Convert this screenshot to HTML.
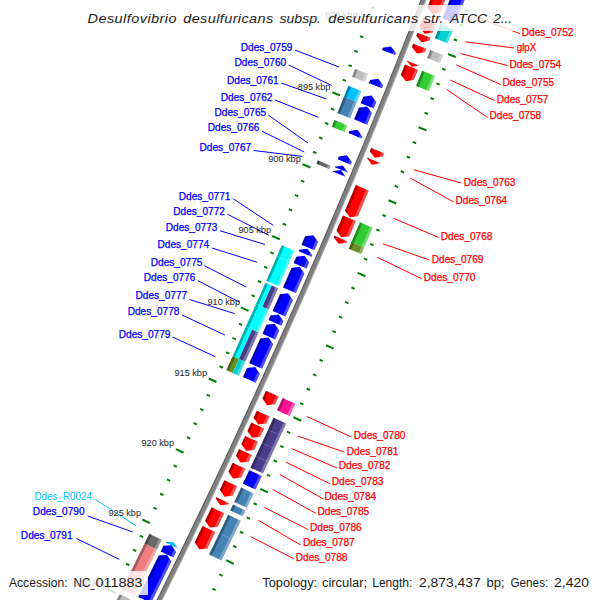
<!DOCTYPE html>
<html><head><meta charset="utf-8"><title>CGView map</title>
<style>
html,body{margin:0;padding:0;background:#fff;}
body{width:600px;height:600px;overflow:hidden;}
svg{display:block;font-family:"Liberation Sans",sans-serif;}
</style></head><body>
<svg width="600" height="600" viewBox="0 0 600 600">
<rect width="600" height="600" fill="#fff"/>
<path d="M504.14 -93.65 L512.02 -90.75 M424.56 -122.94 L416.68 -125.84 M498.67 -78.83 L502.04 -77.58 M419.15 -108.30 L415.78 -109.55 M493.16 -64.03 L496.54 -62.77 M413.71 -93.67 L410.34 -94.93 M487.63 -49.24 L491.00 -47.97 M408.24 -79.06 L404.87 -80.32 M482.06 -34.46 L485.43 -33.19 M402.74 -64.45 L399.37 -65.72 M476.46 -19.70 L484.31 -16.71 M397.20 -49.86 L389.35 -52.85 M470.82 -4.94 L474.19 -3.65 M391.64 -35.28 L388.27 -36.57 M465.16 9.80 L468.52 11.10 M386.04 -20.71 L382.68 -22.00 M459.46 24.53 L462.82 25.83 M380.41 -6.15 L377.05 -7.46 M453.73 39.25 L457.08 40.56 M374.74 8.39 L371.39 7.08 M447.97 53.95 L455.78 57.02 M369.05 22.92 L361.23 19.85 M442.17 68.64 L445.52 69.97 M363.32 37.44 L359.97 36.12 M436.35 83.32 L439.69 84.65 M357.56 51.95 L354.22 50.61 M430.49 97.99 L433.83 99.32 M351.77 66.44 L348.43 65.10 M424.60 112.64 L427.93 113.98 M345.95 80.92 L342.61 79.57 M418.67 127.28 L426.46 130.44 M340.10 95.39 L332.31 92.23 M412.72 141.91 L416.05 143.27 M334.21 109.84 L330.88 108.48 M406.73 156.52 L410.06 157.89 M328.30 124.29 L324.97 122.92 M400.71 171.12 L404.04 172.50 M322.35 138.72 L319.02 137.34 M394.66 185.71 L397.99 187.09 M316.37 153.13 L313.04 151.75 M388.58 200.28 L396.33 203.53 M310.36 167.54 L302.61 164.29 M382.47 214.84 L385.78 216.24 M304.31 181.93 L301.00 180.53 M376.32 229.39 L379.63 230.80 M298.24 196.30 L294.93 194.90 M370.14 243.93 L373.45 245.34 M292.13 210.67 L288.82 209.26 M363.93 258.45 L367.24 259.87 M286.00 225.02 L282.69 223.60 M357.69 272.95 L365.40 276.28 M279.83 239.35 L272.12 236.03 M351.42 287.45 L354.72 288.88 M273.63 253.68 L270.33 252.24 M345.11 301.93 L348.41 303.37 M267.40 267.99 L264.10 266.55 M338.77 316.39 L342.07 317.84 M261.14 282.28 L257.84 280.84 M332.41 330.84 L335.70 332.30 M254.84 296.57 L251.55 295.11 M326.01 345.28 L333.68 348.70 M248.52 310.83 L240.84 307.42 M319.58 359.71 L322.86 361.18 M242.16 325.09 L238.88 323.62 M313.11 374.12 L316.40 375.59 M235.78 339.33 L232.49 337.85 M306.62 388.51 L309.90 390.00 M229.36 353.56 L226.08 352.07 M300.09 402.89 L303.37 404.38 M222.91 367.77 L219.63 366.28 M293.53 417.26 L301.17 420.76 M216.43 381.97 L208.79 378.47 M286.95 431.61 L290.22 433.12 M209.92 396.15 L206.65 394.65 M280.33 445.95 L283.59 447.46 M203.37 410.32 L200.11 408.81 M273.67 460.28 L276.94 461.80 M196.80 424.48 L193.54 422.96 M266.99 474.59 L270.25 476.11 M190.20 438.62 L186.94 437.09 M260.28 488.88 L267.88 492.46 M183.56 452.75 L175.96 449.17 M253.53 503.16 L256.79 504.70 M176.90 466.86 L173.64 465.32 M246.76 517.42 L250.01 518.97 M170.20 480.95 L166.95 479.41 M239.95 531.67 L243.20 533.23 M163.47 495.04 L160.23 493.48 M233.11 545.91 L236.35 547.47 M156.71 509.11 L153.47 507.54 M226.24 560.13 L233.80 563.79 M149.92 523.16 L142.36 519.50 M219.34 574.34 L222.58 575.91 M143.10 537.20 L139.87 535.62 M212.41 588.53 L215.64 590.11 M136.25 551.22 L133.02 549.64 M205.44 602.70 L208.67 604.29 M129.37 565.23 L126.14 563.64 M198.45 616.86 L201.68 618.46 M122.46 579.22 L119.23 577.63 M191.43 631.01 L198.95 634.75 M115.52 593.20 L108.00 589.46 M184.37 645.13 L187.59 646.75 M108.55 607.17 L105.33 605.55 M177.28 659.25 L180.50 660.87 M101.54 621.11 L98.33 619.49 M170.17 673.35 L173.38 674.97 M94.51 635.05 L91.30 633.42 M163.02 687.43 L166.23 689.06 M87.44 648.96 L84.24 647.33 M155.84 701.49 L163.32 705.32 M80.35 662.86 L72.87 659.04 M148.63 715.55 L151.83 717.19 M73.22 676.75 L70.02 675.10 M141.39 729.58 L144.59 731.24 M66.07 690.62 L62.87 688.97 M134.12 743.60 L137.31 745.26 M58.88 704.48 L55.69 702.81 M126.81 757.60 L130.01 759.27 M51.67 718.31 L48.48 716.65" stroke="rgb(0,128,0)" stroke-width="2" fill="none"/>
<polygon points="439.87,-50.41 434.42,-36.03 428.93,-21.65 423.41,-7.29 417.86,7.06 412.28,21.40 406.67,35.73 401.03,50.04 395.36,64.35 389.65,78.64 383.92,92.92 378.16,107.18 372.36,121.44 366.54,135.68 360.68,149.91 354.79,164.12 348.88,178.32 342.93,192.52 336.95,206.69 330.95,220.86 324.91,235.01 318.84,249.15 312.74,263.28 306.61,277.39 300.45,291.49 294.26,305.58 288.04,319.65 281.79,333.71 275.51,347.76 269.20,361.79 262.86,375.81 256.49,389.81 250.09,403.81 243.66,417.78 237.20,431.75 230.71,445.70 224.19,459.64 217.64,473.56 211.06,487.47 204.45,501.36 197.81,515.24 191.14,529.11 184.44,542.96 177.72,556.80 170.96,570.62 164.17,584.43 157.35,598.22 150.51,612.00 143.63,625.77 136.72,639.52 129.79,653.25 122.82,666.97 127.64,669.42 134.61,655.69 141.55,641.94 148.46,628.18 155.34,614.41 162.19,600.62 169.01,586.82 175.81,573.00 182.57,559.16 189.30,545.32 196.01,531.45 202.68,517.58 209.33,503.69 215.94,489.78 222.52,475.86 229.08,461.93 235.60,447.98 242.10,434.02 248.56,420.05 255.00,406.06 261.40,392.05 267.78,378.04 274.12,364.01 280.44,349.96 286.72,335.91 292.98,321.84 299.20,307.75 305.40,293.66 311.56,279.55 317.69,265.42 323.80,251.28 329.87,237.14 335.91,222.97 341.93,208.80 347.91,194.61 353.86,180.41 359.78,166.19 365.67,151.97 371.53,137.73 377.36,123.47 383.16,109.21 388.93,94.93 394.67,80.64 400.37,66.34 406.05,52.03 411.70,37.70 417.31,23.37 422.90,9.02 428.45,-5.35 433.97,-19.72 439.46,-34.10 444.92,-48.50" fill="rgb(128,128,128)"/>
<polygon points="439.87,-50.41 434.42,-36.03 428.93,-21.65 423.41,-7.29 417.86,7.06 412.28,21.40 406.67,35.73 401.03,50.04 395.36,64.35 389.65,78.64 383.92,92.92 378.16,107.18 372.36,121.44 366.54,135.68 360.68,149.91 354.79,164.12 348.88,178.32 342.93,192.52 336.95,206.69 330.95,220.86 324.91,235.01 318.84,249.15 312.74,263.28 306.61,277.39 300.45,291.49 294.26,305.58 288.04,319.65 281.79,333.71 275.51,347.76 269.20,361.79 262.86,375.81 256.49,389.81 250.09,403.81 243.66,417.78 237.20,431.75 230.71,445.70 224.19,459.64 217.64,473.56 211.06,487.47 204.45,501.36 197.81,515.24 191.14,529.11 184.44,542.96 177.72,556.80 170.96,570.62 164.17,584.43 157.35,598.22 150.51,612.00 143.63,625.77 136.72,639.52 129.79,653.25 122.82,666.97 123.79,667.46 130.75,653.74 137.69,640.00 144.60,626.25 151.47,612.48 158.32,598.70 165.14,584.91 171.93,571.10 178.69,557.27 185.42,543.43 192.12,529.58 198.79,515.71 205.43,501.83 212.04,487.93 218.62,474.02 225.17,460.09 231.69,446.16 238.18,432.20 244.64,418.24 251.07,404.26 257.47,390.26 263.85,376.25 270.19,362.23 276.50,348.20 282.78,334.15 289.03,320.09 295.25,306.01 301.44,291.92 307.60,277.82 313.73,263.70 319.83,249.58 325.90,235.44 331.94,221.28 337.95,207.11 343.93,192.93 349.87,178.74 355.79,164.54 361.68,150.32 367.54,136.09 373.36,121.84 379.16,107.59 384.92,93.32 390.66,79.04 396.36,64.75 402.03,50.44 407.68,36.12 413.29,21.79 418.87,7.45 424.42,-6.90 429.94,-21.26 435.43,-35.64 440.88,-50.03" fill="#000" fill-opacity="0.28"/>
<polygon points="443.91,-48.88 438.45,-34.49 432.96,-20.11 427.44,-5.73 421.89,8.63 416.31,22.97 410.69,37.31 405.05,51.63 399.37,65.94 393.66,80.24 387.93,94.53 382.16,108.80 376.36,123.07 370.53,137.32 364.67,151.55 358.78,165.78 352.86,179.99 346.91,194.19 340.93,208.38 334.92,222.55 328.88,236.71 322.81,250.86 316.70,264.99 310.57,279.11 304.41,293.22 298.21,307.32 291.99,321.40 285.74,335.47 279.45,349.52 273.14,363.56 266.80,377.59 260.42,391.61 254.02,405.61 247.58,419.59 241.12,433.57 234.63,447.53 228.10,461.47 221.55,475.40 214.96,489.32 208.35,503.22 201.71,517.11 195.03,530.99 188.33,544.85 181.60,558.69 174.84,572.52 168.05,586.34 161.22,600.14 154.37,613.93 147.49,627.70 140.58,641.46 133.64,655.20 126.67,668.93 127.64,669.42 134.61,655.69 141.55,641.94 148.46,628.18 155.34,614.41 162.19,600.62 169.01,586.82 175.81,573.00 182.57,559.16 189.30,545.32 196.01,531.45 202.68,517.58 209.33,503.69 215.94,489.78 222.52,475.86 229.08,461.93 235.60,447.98 242.10,434.02 248.56,420.05 255.00,406.06 261.40,392.05 267.78,378.04 274.12,364.01 280.44,349.96 286.72,335.91 292.98,321.84 299.20,307.75 305.40,293.66 311.56,279.55 317.69,265.42 323.80,251.28 329.87,237.14 335.91,222.97 341.93,208.80 347.91,194.61 353.86,180.41 359.78,166.19 365.67,151.97 371.53,137.73 377.36,123.47 383.16,109.21 388.93,94.93 394.67,80.64 400.37,66.34 406.05,52.03 411.70,37.70 417.31,23.37 422.90,9.02 428.45,-5.35 433.97,-19.72 439.46,-34.10 444.92,-48.50" fill="#fff" fill-opacity="0.28"/>
<polygon points="465.48,-41.23 460.95,-29.27 456.39,-17.32 451.82,-5.37 447.22,6.56 442.60,18.49 455.47,23.49 460.09,11.53 464.70,-0.43 469.29,-12.39 473.85,-24.37 478.39,-36.35" fill="rgb(0,0,255)"/>
<polygon points="465.48,-41.23 460.95,-29.27 456.39,-17.32 451.82,-5.37 447.22,6.56 442.60,18.49 445.17,19.49 449.80,7.56 454.39,-4.38 458.97,-16.33 463.53,-28.29 468.06,-40.26" fill="#000" fill-opacity="0.3"/>
<polygon points="475.81,-37.33 471.27,-25.35 466.71,-13.38 462.12,-1.41 457.52,10.54 452.89,22.49 455.47,23.49 460.09,11.53 464.70,-0.43 469.29,-12.39 473.85,-24.37 478.39,-36.35" fill="#fff" fill-opacity="0.3"/>
<polygon points="448.29,-47.23 427.33,7.55 432.33,14.00 440.38,12.61 461.39,-42.28" fill="rgb(255,0,0)"/>
<polygon points="448.29,-47.23 427.33,7.55 429.33,10.13 450.91,-46.24" fill="#000" fill-opacity="0.3"/>
<polygon points="461.39,-42.28 440.38,12.61 437.16,13.16 458.77,-43.27" fill="#fff" fill-opacity="0.3"/>
<polygon points="440.49,23.93 434.88,38.31 447.73,43.34 453.35,28.93" fill="rgb(0,206,209)"/>
<polygon points="440.49,23.93 434.88,38.31 437.45,39.31 443.06,24.93" fill="#000" fill-opacity="0.3"/>
<polygon points="450.78,27.93 445.16,42.33 447.73,43.34 453.35,28.93" fill="#fff" fill-opacity="0.3"/>
<polygon points="423.36,17.77 419.63,27.32 424.62,33.78 432.67,32.41 436.40,22.84" fill="rgb(255,0,0)"/>
<polygon points="423.36,17.77 419.63,27.32 421.63,29.90 425.97,18.78" fill="#000" fill-opacity="0.3"/>
<polygon points="436.40,22.84 432.67,32.41 429.45,32.96 433.80,21.83" fill="#fff" fill-opacity="0.3"/>
<polygon points="417.53,32.70 416.37,35.66 421.35,42.13 429.40,40.77 430.56,37.80" fill="rgb(255,0,0)"/>
<polygon points="417.53,32.70 416.37,35.66 418.36,38.25 420.14,33.72" fill="#000" fill-opacity="0.3"/>
<polygon points="430.56,37.80 429.40,40.77 426.18,41.32 427.96,36.78" fill="#fff" fill-opacity="0.3"/>
<polygon points="430.33,49.89 427.09,58.10 439.93,63.17 443.17,54.95" fill="rgb(190,190,190)"/>
<polygon points="430.33,49.89 427.09,58.10 429.66,59.11 432.90,50.90" fill="#000" fill-opacity="0.3"/>
<polygon points="440.60,53.94 437.36,62.16 439.93,63.17 443.17,54.95" fill="#fff" fill-opacity="0.3"/>
<polygon points="413.22,43.67 411.88,47.06 416.85,53.55 424.91,52.20 426.25,48.79" fill="rgb(255,0,0)"/>
<polygon points="413.22,43.67 411.88,47.06 413.87,49.66 415.83,44.69" fill="#000" fill-opacity="0.3"/>
<polygon points="426.25,48.79 424.91,52.20 421.68,52.74 423.64,47.77" fill="#fff" fill-opacity="0.3"/>
<polygon points="406.52,60.62 406.52,60.62 411.64,66.71 419.54,65.78 419.54,65.78" fill="rgb(255,0,0)"/>
<polygon points="406.52,60.62 406.52,60.62 408.57,63.05 409.12,61.65" fill="#000" fill-opacity="0.3"/>
<polygon points="419.54,65.78 419.54,65.78 416.38,66.15 416.93,64.75" fill="#fff" fill-opacity="0.3"/>
<polygon points="422.04,70.84 419.05,78.38 416.04,85.92 428.85,91.04 431.87,83.49 434.87,75.94" fill="rgb(50,205,50)"/>
<polygon points="422.04,70.84 419.05,78.38 416.04,85.92 418.60,86.94 421.61,79.40 424.61,71.86" fill="#000" fill-opacity="0.3"/>
<polygon points="432.30,74.92 429.30,82.47 426.29,90.01 428.85,91.04 431.87,83.49 434.87,75.94" fill="#fff" fill-opacity="0.3"/>
<polygon points="404.96,64.56 400.87,74.82 405.81,81.32 413.88,80.01 417.97,69.73" fill="rgb(255,0,0)"/>
<polygon points="404.96,64.56 400.87,74.82 402.85,77.42 407.56,65.60" fill="#000" fill-opacity="0.3"/>
<polygon points="417.97,69.73 413.88,80.01 410.65,80.53 415.36,68.70" fill="#fff" fill-opacity="0.3"/>
<polygon points="371.19,148.03 369.86,151.26 374.72,157.82 382.80,156.60 384.13,153.36" fill="rgb(255,0,0)"/>
<polygon points="371.19,148.03 369.86,151.26 371.80,153.88 373.78,149.10" fill="#000" fill-opacity="0.3"/>
<polygon points="384.13,153.36 382.80,156.60 379.57,157.09 381.54,152.29" fill="#fff" fill-opacity="0.3"/>
<polygon points="367.17,157.76 367.04,158.09 371.90,164.65 379.97,163.44 380.11,163.11" fill="rgb(255,0,0)"/>
<polygon points="367.17,157.76 367.04,158.09 368.98,160.71 369.76,158.83" fill="#000" fill-opacity="0.3"/>
<polygon points="380.11,163.11 379.97,163.44 376.74,163.93 377.52,162.04" fill="#fff" fill-opacity="0.3"/>
<polygon points="355.83,185.04 345.03,210.71 349.83,217.31 357.92,216.17 368.74,190.44" fill="rgb(255,0,0)"/>
<polygon points="355.83,185.04 345.03,210.71 346.95,213.35 358.41,186.12" fill="#000" fill-opacity="0.3"/>
<polygon points="368.74,190.44 357.92,216.17 354.68,216.63 366.16,189.36" fill="#fff" fill-opacity="0.3"/>
<polygon points="359.90,222.26 355.65,232.27 351.39,242.27 364.08,247.69 368.35,237.67 372.61,227.65" fill="rgb(50,205,50)"/>
<polygon points="359.90,222.26 355.65,232.27 351.39,242.27 353.92,243.35 358.19,233.35 362.44,223.34" fill="#000" fill-opacity="0.3"/>
<polygon points="370.06,226.57 365.81,236.59 361.54,246.60 364.08,247.69 368.35,237.67 372.61,227.65" fill="#fff" fill-opacity="0.3"/>
<polygon points="342.96,215.60 336.55,230.67 341.33,237.29 349.43,236.16 355.85,221.06" fill="rgb(255,0,0)"/>
<polygon points="342.96,215.60 336.55,230.67 338.46,233.32 345.54,216.69" fill="#000" fill-opacity="0.3"/>
<polygon points="355.85,221.06 349.43,236.16 346.19,236.61 353.27,219.97" fill="#fff" fill-opacity="0.3"/>
<polygon points="351.39,242.27 348.66,248.64 361.34,254.07 364.08,247.69" fill="rgb(107,142,35)"/>
<polygon points="351.39,242.27 348.66,248.64 351.20,249.73 353.92,243.35" fill="#000" fill-opacity="0.3"/>
<polygon points="361.54,246.60 358.81,252.99 361.34,254.07 364.08,247.69" fill="#fff" fill-opacity="0.3"/>
<polygon points="334.40,235.69 333.77,237.17 338.55,243.79 346.64,242.68 347.28,241.20" fill="rgb(255,0,0)"/>
<polygon points="334.40,235.69 333.77,237.17 335.68,239.82 336.98,236.79" fill="#000" fill-opacity="0.3"/>
<polygon points="347.28,241.20 346.64,242.68 343.41,243.13 344.70,240.09" fill="#fff" fill-opacity="0.3"/>
<polygon points="282.69,397.92 277.06,410.24 289.61,415.98 295.25,403.64" fill="rgb(255,20,147)"/>
<polygon points="282.69,397.92 277.06,410.24 279.57,411.39 285.20,399.06" fill="#000" fill-opacity="0.3"/>
<polygon points="292.74,402.49 287.10,414.84 289.61,415.98 295.25,403.64" fill="#fff" fill-opacity="0.3"/>
<polygon points="265.93,390.80 262.46,398.41 267.08,405.15 275.19,404.23 278.67,396.61" fill="rgb(255,0,0)"/>
<polygon points="265.93,390.80 262.46,398.41 264.31,401.11 268.48,391.96" fill="#000" fill-opacity="0.3"/>
<polygon points="278.67,396.61 275.19,404.23 271.95,404.60 276.12,395.44" fill="#fff" fill-opacity="0.3"/>
<polygon points="273.58,417.83 268.15,429.64 280.68,435.42 286.12,423.59" fill="rgb(72,61,139)"/>
<polygon points="273.58,417.83 268.15,429.64 270.65,430.79 276.09,418.98" fill="#000" fill-opacity="0.3"/>
<polygon points="283.62,422.44 278.17,434.26 280.68,435.42 286.12,423.59" fill="#fff" fill-opacity="0.3"/>
<polygon points="256.85,410.66 253.61,417.69 258.21,424.44 266.33,423.55 269.57,416.51" fill="rgb(255,0,0)"/>
<polygon points="256.85,410.66 253.61,417.69 255.45,420.39 259.39,411.83" fill="#000" fill-opacity="0.3"/>
<polygon points="269.57,416.51 266.33,423.55 263.08,423.91 267.02,415.34" fill="#fff" fill-opacity="0.3"/>
<polygon points="268.15,429.64 261.96,443.00 274.48,448.81 280.68,435.42" fill="rgb(72,61,139)"/>
<polygon points="268.15,429.64 261.96,443.00 264.47,444.17 270.65,430.79" fill="#000" fill-opacity="0.3"/>
<polygon points="278.17,434.26 271.98,447.65 274.48,448.81 280.68,435.42" fill="#fff" fill-opacity="0.3"/>
<polygon points="251.39,422.51 247.49,430.96 252.07,437.72 260.19,436.84 264.10,428.38" fill="rgb(255,0,0)"/>
<polygon points="251.39,422.51 247.49,430.96 249.32,433.66 253.93,423.68" fill="#000" fill-opacity="0.3"/>
<polygon points="264.10,428.38 260.19,436.84 256.94,437.20 261.56,427.20" fill="#fff" fill-opacity="0.3"/>
<polygon points="261.96,443.00 255.85,456.15 268.36,461.98 274.48,448.81" fill="rgb(72,61,139)"/>
<polygon points="261.96,443.00 255.85,456.15 258.35,457.31 264.47,444.17" fill="#000" fill-opacity="0.3"/>
<polygon points="271.98,447.65 265.86,460.81 268.36,461.98 274.48,448.81" fill="#fff" fill-opacity="0.3"/>
<polygon points="245.19,435.92 241.40,444.07 245.97,450.84 254.09,449.98 257.89,441.81" fill="rgb(255,0,0)"/>
<polygon points="245.19,435.92 241.40,444.07 243.23,446.78 247.73,437.09" fill="#000" fill-opacity="0.3"/>
<polygon points="257.89,441.81 254.09,449.98 250.84,450.33 255.35,440.63" fill="#fff" fill-opacity="0.3"/>
<polygon points="255.85,456.15 250.45,467.71 262.94,473.56 268.36,461.98" fill="rgb(72,61,139)"/>
<polygon points="255.85,456.15 250.45,467.71 252.95,468.88 258.35,457.31" fill="#000" fill-opacity="0.3"/>
<polygon points="265.86,460.81 260.45,472.39 262.94,473.56 268.36,461.98" fill="#fff" fill-opacity="0.3"/>
<polygon points="239.09,449.02 235.95,455.75 240.51,462.53 248.63,461.68 251.78,454.94" fill="rgb(255,0,0)"/>
<polygon points="239.09,449.02 235.95,455.75 237.77,458.46 241.63,450.21" fill="#000" fill-opacity="0.3"/>
<polygon points="251.78,454.94 248.63,461.68 245.38,462.02 249.24,453.76" fill="#fff" fill-opacity="0.3"/>
<polygon points="249.31,470.13 242.94,483.67 255.43,489.56 261.81,475.99" fill="rgb(0,0,255)"/>
<polygon points="249.31,470.13 242.94,483.67 245.44,484.85 251.81,471.30" fill="#000" fill-opacity="0.3"/>
<polygon points="259.31,474.82 252.93,488.38 255.43,489.56 261.81,475.99" fill="#fff" fill-opacity="0.3"/>
<polygon points="232.63,462.83 228.47,471.68 233.01,478.47 241.14,477.65 245.31,468.78" fill="rgb(255,0,0)"/>
<polygon points="232.63,462.83 228.47,471.68 230.29,474.40 235.17,464.02" fill="#000" fill-opacity="0.3"/>
<polygon points="245.31,468.78 241.14,477.65 237.89,477.98 242.77,467.59" fill="#fff" fill-opacity="0.3"/>
<polygon points="241.13,487.52 237.73,494.71 234.32,501.90 246.78,507.82 250.20,500.62 253.61,493.41" fill="rgb(70,130,180)"/>
<polygon points="241.13,487.52 237.73,494.71 234.32,501.90 236.81,503.09 240.22,495.89 243.62,488.70" fill="#000" fill-opacity="0.3"/>
<polygon points="251.11,492.24 247.70,499.44 244.29,506.64 246.78,507.82 250.20,500.62 253.61,493.41" fill="#fff" fill-opacity="0.3"/>
<polygon points="224.47,480.18 219.88,489.87 224.40,496.67 232.53,495.87 237.13,486.16" fill="rgb(255,0,0)"/>
<polygon points="224.47,480.18 219.88,489.87 221.69,492.59 227.00,481.37" fill="#000" fill-opacity="0.3"/>
<polygon points="237.13,486.16 232.53,495.87 229.28,496.19 234.60,484.96" fill="#fff" fill-opacity="0.3"/>
<polygon points="233.03,504.61 230.26,510.44 242.72,516.37 245.50,510.53" fill="rgb(70,130,180)"/>
<polygon points="233.03,504.61 230.26,510.44 232.75,511.62 235.53,505.79" fill="#000" fill-opacity="0.3"/>
<polygon points="243.00,509.35 240.22,515.19 242.72,516.37 245.50,510.53" fill="#fff" fill-opacity="0.3"/>
<polygon points="216.39,497.22 215.84,498.39 220.35,505.19 228.48,504.40 229.04,503.23" fill="rgb(255,0,0)"/>
<polygon points="216.39,497.22 215.84,498.39 217.64,501.11 218.92,498.42" fill="#000" fill-opacity="0.3"/>
<polygon points="229.04,503.23 228.48,504.40 225.23,504.72 226.51,502.03" fill="#fff" fill-opacity="0.3"/>
<polygon points="228.22,514.70 223.81,523.94 219.38,533.17 231.81,539.15 236.25,529.90 240.68,520.65" fill="rgb(70,130,180)"/>
<polygon points="228.22,514.70 223.81,523.94 219.38,533.17 221.86,534.37 226.30,525.13 230.71,515.89" fill="#000" fill-opacity="0.3"/>
<polygon points="238.19,519.46 233.76,528.71 229.32,537.96 231.81,539.15 236.25,529.90 240.68,520.65" fill="#fff" fill-opacity="0.3"/>
<polygon points="211.60,507.29 205.13,520.79 209.62,527.61 217.75,526.85 224.23,513.32" fill="rgb(255,0,0)"/>
<polygon points="211.60,507.29 205.13,520.79 206.93,523.52 214.12,508.50" fill="#000" fill-opacity="0.3"/>
<polygon points="224.23,513.32 217.75,526.85 214.50,527.15 221.70,512.11" fill="#fff" fill-opacity="0.3"/>
<polygon points="219.38,533.17 214.25,543.82 209.10,554.45 221.52,560.47 226.67,549.82 231.81,539.15" fill="rgb(70,130,180)"/>
<polygon points="219.38,533.17 214.25,543.82 209.10,554.45 211.58,555.66 216.73,545.02 221.86,534.37" fill="#000" fill-opacity="0.3"/>
<polygon points="229.32,537.96 224.19,548.62 219.03,559.27 221.52,560.47 226.67,549.82 231.81,539.15" fill="#fff" fill-opacity="0.3"/>
<polygon points="202.63,525.99 194.76,542.31 199.23,549.14 207.36,548.41 215.25,532.06" fill="rgb(255,0,0)"/>
<polygon points="202.63,525.99 194.76,542.31 196.55,545.04 205.16,527.21" fill="#000" fill-opacity="0.3"/>
<polygon points="215.25,532.06 207.36,548.41 204.11,548.70 212.73,530.85" fill="#fff" fill-opacity="0.3"/>
<polygon points="382.14,49.94 382.96,47.86 391.01,46.54 395.98,53.02 395.16,55.10" fill="rgb(0,0,255)"/>
<polygon points="382.14,49.94 382.96,47.86 386.18,47.34 384.74,50.97" fill="#000" fill-opacity="0.3"/>
<polygon points="395.16,55.10 395.98,53.02 393.99,50.43 392.55,54.07" fill="#fff" fill-opacity="0.3"/>
<polygon points="355.17,68.98 352.03,76.81 364.83,81.96 367.98,74.12" fill="rgb(190,190,190)"/>
<polygon points="355.17,68.98 352.03,76.81 354.59,77.84 357.73,70.01" fill="#000" fill-opacity="0.3"/>
<polygon points="365.42,73.09 362.27,80.93 364.83,81.96 367.98,74.12" fill="#fff" fill-opacity="0.3"/>
<polygon points="368.90,83.09 370.14,80.00 378.20,78.72 383.14,85.22 381.89,88.31" fill="rgb(0,0,255)"/>
<polygon points="368.90,83.09 370.14,80.00 373.37,79.49 371.50,84.13" fill="#000" fill-opacity="0.3"/>
<polygon points="381.89,88.31 383.14,85.22 381.16,82.62 379.29,87.27" fill="#fff" fill-opacity="0.3"/>
<polygon points="348.41,85.79 343.96,96.79 356.74,101.98 361.21,90.95" fill="rgb(0,191,255)"/>
<polygon points="348.41,85.79 343.96,96.79 346.51,97.82 350.97,86.82" fill="#000" fill-opacity="0.3"/>
<polygon points="358.65,89.92 354.19,100.94 356.74,101.98 361.21,90.95" fill="#fff" fill-opacity="0.3"/>
<polygon points="360.75,103.26 363.35,96.84 371.41,95.58 376.33,102.10 373.72,108.53" fill="rgb(0,0,255)"/>
<polygon points="360.75,103.26 363.35,96.84 366.58,96.34 363.35,104.32" fill="#000" fill-opacity="0.3"/>
<polygon points="373.72,108.53 376.33,102.10 374.37,99.49 371.13,107.48" fill="#fff" fill-opacity="0.3"/>
<polygon points="343.96,96.79 340.66,104.89 337.36,112.99 350.13,118.21 353.44,110.09 356.74,101.98" fill="rgb(70,130,180)"/>
<polygon points="343.96,96.79 340.66,104.89 337.36,112.99 339.91,114.03 343.22,105.93 346.51,97.82" fill="#000" fill-opacity="0.3"/>
<polygon points="354.19,100.94 350.89,109.05 347.58,117.16 350.13,118.21 353.44,110.09 356.74,101.98" fill="#fff" fill-opacity="0.3"/>
<polygon points="354.20,119.36 358.94,107.73 367.00,106.48 371.91,113.00 367.16,124.66" fill="rgb(0,0,255)"/>
<polygon points="354.20,119.36 358.94,107.73 362.17,107.23 356.79,120.42" fill="#000" fill-opacity="0.3"/>
<polygon points="367.16,124.66 371.91,113.00 369.95,110.39 364.57,123.60" fill="#fff" fill-opacity="0.3"/>
<polygon points="334.52,119.92 331.73,126.71 344.50,131.96 347.29,125.16" fill="rgb(50,205,50)"/>
<polygon points="334.52,119.92 331.73,126.71 334.28,127.76 337.07,120.97" fill="#000" fill-opacity="0.3"/>
<polygon points="344.73,124.11 341.94,130.91 344.50,131.96 347.29,125.16" fill="#fff" fill-opacity="0.3"/>
<polygon points="348.56,133.12 349.41,131.06 357.47,129.84 362.36,136.38 361.51,138.44" fill="rgb(0,0,255)"/>
<polygon points="348.56,133.12 349.41,131.06 352.63,130.57 351.15,134.19" fill="#000" fill-opacity="0.3"/>
<polygon points="361.51,138.44 362.36,136.38 360.40,133.76 358.92,137.38" fill="#fff" fill-opacity="0.3"/>
<polygon points="337.73,159.31 338.89,156.53 346.96,155.34 351.82,161.89 350.66,164.68" fill="rgb(0,0,255)"/>
<polygon points="337.73,159.31 338.89,156.53 342.12,156.05 340.32,160.38" fill="#000" fill-opacity="0.3"/>
<polygon points="350.66,164.68 351.82,161.89 349.88,159.27 348.08,163.61" fill="#fff" fill-opacity="0.3"/>
<polygon points="334.49,167.11 334.68,166.65 342.75,165.47 347.60,172.03 347.41,172.50" fill="rgb(0,0,255)"/>
<polygon points="334.49,167.11 334.68,166.65 337.91,166.18 337.07,168.19" fill="#000" fill-opacity="0.3"/>
<polygon points="347.41,172.50 347.60,172.03 345.66,169.41 344.82,171.43" fill="#fff" fill-opacity="0.3"/>
<polygon points="332.68,171.45 332.75,171.27 340.83,170.10 345.67,176.67 345.59,176.85" fill="rgb(0,0,255)"/>
<polygon points="332.68,171.45 332.75,171.27 335.98,170.80 335.26,172.53" fill="#000" fill-opacity="0.3"/>
<polygon points="345.59,176.85 345.67,176.67 343.73,174.04 343.01,175.77" fill="#fff" fill-opacity="0.3"/>
<polygon points="301.55,244.80 305.21,236.28 313.30,235.19 318.08,241.81 314.40,250.34" fill="rgb(0,0,255)"/>
<polygon points="301.55,244.80 305.21,236.28 308.45,235.85 304.12,245.91" fill="#000" fill-opacity="0.3"/>
<polygon points="314.40,250.34 318.08,241.81 316.17,239.16 311.83,249.24" fill="#fff" fill-opacity="0.3"/>
<polygon points="298.76,251.27 299.39,249.80 307.48,248.73 312.24,255.35 311.61,256.83" fill="rgb(0,0,255)"/>
<polygon points="298.76,251.27 299.39,249.80 302.63,249.37 301.33,252.38" fill="#000" fill-opacity="0.3"/>
<polygon points="311.61,256.83 312.24,255.35 310.34,252.70 309.04,255.72" fill="#fff" fill-opacity="0.3"/>
<polygon points="281.74,245.28 276.96,256.31 289.61,261.81 294.40,250.76" fill="rgb(0,255,255)"/>
<polygon points="281.74,245.28 276.96,256.31 279.49,257.41 284.27,246.37" fill="#000" fill-opacity="0.3"/>
<polygon points="291.87,249.66 287.08,260.71 289.61,261.81 294.40,250.76" fill="#fff" fill-opacity="0.3"/>
<polygon points="293.72,262.91 296.41,256.70 304.50,255.63 309.26,262.26 306.56,268.49" fill="rgb(0,0,255)"/>
<polygon points="293.72,262.91 296.41,256.70 299.64,256.27 296.28,264.02" fill="#000" fill-opacity="0.3"/>
<polygon points="306.56,268.49 309.26,262.26 307.35,259.61 303.99,267.37" fill="#fff" fill-opacity="0.3"/>
<polygon points="276.96,256.31 271.66,268.48 266.33,280.64 278.97,286.19 284.30,274.00 289.61,261.81" fill="rgb(0,255,255)"/>
<polygon points="276.96,256.31 271.66,268.48 266.33,280.64 268.86,281.75 274.19,269.59 279.49,257.41" fill="#000" fill-opacity="0.3"/>
<polygon points="287.08,260.71 281.77,272.90 276.44,285.08 278.97,286.19 284.30,274.00 289.61,261.81" fill="#fff" fill-opacity="0.3"/>
<polygon points="283.01,287.45 291.55,267.90 299.64,266.85 304.38,273.48 295.83,293.07" fill="rgb(0,0,255)"/>
<polygon points="283.01,287.45 291.55,267.90 294.78,267.48 285.57,288.57" fill="#000" fill-opacity="0.3"/>
<polygon points="295.83,293.07 304.38,273.48 302.49,270.83 293.26,291.94" fill="#fff" fill-opacity="0.3"/>
<polygon points="265.39,282.79 260.72,293.40 256.03,304.01 262.34,306.80 267.04,296.19 271.71,285.56" fill="rgb(0,255,255)"/>
<polygon points="271.71,285.56 267.04,296.19 262.34,306.80 268.65,309.60 273.35,298.97 278.03,288.34" fill="rgb(72,61,139)"/>
<polygon points="265.39,282.79 260.72,293.40 256.03,304.01 258.56,305.12 263.25,294.52 267.92,283.90" fill="#000" fill-opacity="0.3"/>
<polygon points="275.50,287.23 270.82,297.86 266.13,308.48 268.65,309.60 273.35,298.97 278.03,288.34" fill="#fff" fill-opacity="0.3"/>
<polygon points="272.65,310.94 280.00,294.29 288.09,293.27 292.81,299.93 285.45,316.61" fill="rgb(0,0,255)"/>
<polygon points="272.65,310.94 280.00,294.29 283.24,293.88 275.21,312.07" fill="#000" fill-opacity="0.3"/>
<polygon points="285.45,316.61 292.81,299.93 290.93,297.26 282.89,315.48" fill="#fff" fill-opacity="0.3"/>
<polygon points="256.03,304.01 251.95,313.21 264.56,318.82 268.65,309.60" fill="rgb(0,255,255)"/>
<polygon points="256.03,304.01 251.95,313.21 254.47,314.33 258.56,305.12" fill="#000" fill-opacity="0.3"/>
<polygon points="266.13,308.48 262.04,317.70 264.56,318.82 268.65,309.60" fill="#fff" fill-opacity="0.3"/>
<polygon points="268.59,320.10 270.64,315.48 278.73,314.49 283.43,321.16 281.38,325.79" fill="rgb(0,0,255)"/>
<polygon points="268.59,320.10 270.64,315.48 273.87,315.09 271.14,321.24" fill="#000" fill-opacity="0.3"/>
<polygon points="281.38,325.79 283.43,321.16 281.55,318.49 278.82,324.65" fill="#fff" fill-opacity="0.3"/>
<polygon points="251.95,313.21 245.87,326.83 258.47,332.47 264.56,318.82" fill="rgb(0,255,255)"/>
<polygon points="251.95,313.21 245.87,326.83 248.39,327.96 254.47,314.33" fill="#000" fill-opacity="0.3"/>
<polygon points="262.04,317.70 255.95,331.34 258.47,332.47 264.56,318.82" fill="#fff" fill-opacity="0.3"/>
<polygon points="262.53,333.68 266.50,324.78 274.60,323.80 279.29,330.48 275.31,339.40" fill="rgb(0,0,255)"/>
<polygon points="262.53,333.68 266.50,324.78 269.74,324.39 265.09,334.82" fill="#000" fill-opacity="0.3"/>
<polygon points="275.31,339.40 279.29,330.48 277.41,327.81 272.75,338.25" fill="#fff" fill-opacity="0.3"/>
<polygon points="245.87,326.83 241.49,336.62 237.09,346.40 232.67,356.17 238.96,359.02 243.38,349.23 247.78,339.45 252.17,329.65" fill="rgb(0,255,255)"/>
<polygon points="252.17,329.65 247.78,339.45 243.38,349.23 238.96,359.02 245.25,361.86 249.67,352.07 254.08,342.27 258.47,332.47" fill="rgb(72,61,139)"/>
<polygon points="245.87,326.83 241.49,336.62 237.09,346.40 232.67,356.17 235.19,357.31 239.61,347.53 244.01,337.75 248.39,327.96" fill="#000" fill-opacity="0.3"/>
<polygon points="255.95,331.34 251.56,341.14 247.15,350.94 242.73,360.72 245.25,361.86 249.67,352.07 254.08,342.27 258.47,332.47" fill="#fff" fill-opacity="0.3"/>
<polygon points="249.30,363.09 260.37,338.50 268.47,337.54 273.15,344.23 262.05,368.87" fill="rgb(0,0,255)"/>
<polygon points="249.30,363.09 260.37,338.50 263.61,338.12 251.85,364.25" fill="#000" fill-opacity="0.3"/>
<polygon points="262.05,368.87 273.15,344.23 271.28,341.55 259.50,367.71" fill="#fff" fill-opacity="0.3"/>
<polygon points="232.67,356.17 226.38,370.04 232.66,372.89 238.96,359.02" fill="rgb(107,142,35)"/>
<polygon points="238.96,359.02 232.66,372.89 238.94,375.75 245.25,361.86" fill="rgb(0,206,209)"/>
<polygon points="232.67,356.17 226.38,370.04 228.89,371.18 235.19,357.31" fill="#000" fill-opacity="0.3"/>
<polygon points="242.73,360.72 236.43,374.61 238.94,375.75 245.25,361.86" fill="#fff" fill-opacity="0.3"/>
<polygon points="242.96,377.07 247.12,367.91 255.22,366.98 259.87,373.69 255.70,382.86" fill="rgb(0,0,255)"/>
<polygon points="242.96,377.07 247.12,367.91 250.36,367.54 245.51,378.23" fill="#000" fill-opacity="0.3"/>
<polygon points="255.70,382.86 259.87,373.69 258.01,371.00 253.15,381.70" fill="#fff" fill-opacity="0.3"/>
<polygon points="149.32,533.80 144.53,543.63 156.93,549.68 161.73,539.83" fill="rgb(105,105,105)"/>
<polygon points="149.32,533.80 144.53,543.63 147.01,544.84 151.80,535.00" fill="#000" fill-opacity="0.3"/>
<polygon points="159.25,538.62 154.45,548.47 156.93,549.68 161.73,539.83" fill="#fff" fill-opacity="0.3"/>
<polygon points="160.78,551.38 163.47,545.86 171.60,545.15 176.06,551.99 173.36,557.52" fill="rgb(0,0,255)"/>
<polygon points="160.78,551.38 163.47,545.86 166.72,545.58 163.29,552.61" fill="#000" fill-opacity="0.3"/>
<polygon points="173.36,557.52 176.06,551.99 174.27,549.25 170.84,556.29" fill="#fff" fill-opacity="0.3"/>
<polygon points="144.53,543.63 138.94,555.06 133.33,566.48 127.69,577.89 122.04,589.30 134.40,595.44 140.06,584.01 145.71,572.58 151.33,561.13 156.93,549.68" fill="rgb(240,128,128)"/>
<polygon points="144.53,543.63 138.94,555.06 133.33,566.48 127.69,577.89 122.04,589.30 124.51,590.53 130.17,579.12 135.80,567.70 141.42,556.27 147.01,544.84" fill="#000" fill-opacity="0.3"/>
<polygon points="154.45,548.47 148.85,559.92 143.23,571.36 137.59,582.79 131.93,594.21 134.40,595.44 140.06,584.01 145.71,572.58 151.33,561.13 156.93,549.68" fill="#fff" fill-opacity="0.3"/>
<polygon points="138.37,596.89 158.80,555.42 166.93,554.73 171.38,561.57 150.91,603.12" fill="rgb(0,0,255)"/>
<polygon points="138.37,596.89 158.80,555.42 162.05,555.15 140.88,598.13" fill="#000" fill-opacity="0.3"/>
<polygon points="150.91,603.12 171.38,561.57 169.60,558.84 148.40,601.87" fill="#fff" fill-opacity="0.3"/>
<polygon points="119.68,594.05 113.96,605.51 108.22,616.96 102.46,628.40 96.68,639.82 90.89,651.24 103.18,657.50 108.99,646.06 114.78,634.61 120.55,623.15 126.30,611.68 132.03,600.20" fill="rgb(190,190,190)"/>
<polygon points="119.68,594.05 113.96,605.51 108.22,616.96 102.46,628.40 96.68,639.82 90.89,651.24 93.34,652.49 99.15,641.07 104.93,629.64 110.69,618.20 116.43,606.74 122.15,595.28" fill="#000" fill-opacity="0.3"/>
<polygon points="129.56,598.97 123.83,610.45 118.09,621.91 112.32,633.37 106.53,644.81 100.72,656.25 103.18,657.50 108.99,646.06 114.78,634.61 120.55,623.15 126.30,611.68 132.03,600.20" fill="#fff" fill-opacity="0.3"/>
<polygon points="107.14,658.99 133.71,606.24 141.85,605.61 146.24,612.49 119.62,665.34" fill="rgb(0,0,255)"/>
<polygon points="107.14,658.99 133.71,606.24 136.97,605.99 109.63,660.26" fill="#000" fill-opacity="0.3"/>
<polygon points="119.62,665.34 146.24,612.49 144.48,609.74 117.12,664.07" fill="#fff" fill-opacity="0.3"/>
<polygon points="317.81,160.33 316.43,163.65 329.16,168.96 330.55,165.64" fill="rgb(105,105,105)"/>
<polygon points="317.81,160.33 316.43,163.65 318.98,164.71 320.36,161.39" fill="#000" fill-opacity="0.3"/>
<polygon points="328.00,164.58 326.62,167.90 329.16,168.96 330.55,165.64" fill="#fff" fill-opacity="0.3"/>
<polygon points="165.16,542.37 165.18,542.34 173.31,541.63 177.77,548.46 177.76,548.49" fill="rgb(0,191,255)"/>
<polygon points="165.16,542.37 165.18,542.34 168.43,542.05 167.68,543.60" fill="#000" fill-opacity="0.3"/>
<polygon points="177.76,548.49 177.77,548.46 175.99,545.73 175.24,547.27" fill="#fff" fill-opacity="0.3"/>
<polygon points="107.14,658.99 133.71,606.24 141.85,605.61 146.24,612.49 119.62,665.34" fill="rgb(0,0,255)"/>
<polygon points="107.14,658.99 133.71,606.24 136.97,605.99 109.63,660.26" fill="#000" fill-opacity="0.3"/>
<polygon points="119.62,665.34 146.24,612.49 144.48,609.74 117.12,664.07" fill="#fff" fill-opacity="0.3"/>
<text x="240.75" y="50.50" font-size="10" fill="rgb(0,0,255)" text-anchor="start" textLength="51.75" lengthAdjust="spacingAndGlyphs" stroke="rgb(0,0,255)" stroke-width="0.25">Ddes_0759</text>
<text x="234.50" y="65.50" font-size="10" fill="rgb(0,0,255)" text-anchor="start" textLength="51.75" lengthAdjust="spacingAndGlyphs" stroke="rgb(0,0,255)" stroke-width="0.25">Ddes_0760</text>
<text x="227.00" y="83.75" font-size="10" fill="rgb(0,0,255)" text-anchor="start" textLength="51.75" lengthAdjust="spacingAndGlyphs" stroke="rgb(0,0,255)" stroke-width="0.25">Ddes_0761</text>
<text x="220.75" y="100.50" font-size="10" fill="rgb(0,0,255)" text-anchor="start" textLength="51.75" lengthAdjust="spacingAndGlyphs" stroke="rgb(0,0,255)" stroke-width="0.25">Ddes_0762</text>
<text x="214.50" y="115.50" font-size="10" fill="rgb(0,0,255)" text-anchor="start" textLength="51.75" lengthAdjust="spacingAndGlyphs" stroke="rgb(0,0,255)" stroke-width="0.25">Ddes_0765</text>
<text x="207.75" y="131.25" font-size="10" fill="rgb(0,0,255)" text-anchor="start" textLength="51.75" lengthAdjust="spacingAndGlyphs" stroke="rgb(0,0,255)" stroke-width="0.25">Ddes_0766</text>
<text x="199.50" y="150.50" font-size="10" fill="rgb(0,0,255)" text-anchor="start" textLength="51.75" lengthAdjust="spacingAndGlyphs" stroke="rgb(0,0,255)" stroke-width="0.25">Ddes_0767</text>
<text x="178.75" y="199.50" font-size="10" fill="rgb(0,0,255)" text-anchor="start" textLength="51.75" lengthAdjust="spacingAndGlyphs" stroke="rgb(0,0,255)" stroke-width="0.25">Ddes_0771</text>
<text x="173.25" y="214.50" font-size="10" fill="rgb(0,0,255)" text-anchor="start" textLength="51.75" lengthAdjust="spacingAndGlyphs" stroke="rgb(0,0,255)" stroke-width="0.25">Ddes_0772</text>
<text x="165.75" y="231.25" font-size="10" fill="rgb(0,0,255)" text-anchor="start" textLength="51.75" lengthAdjust="spacingAndGlyphs" stroke="rgb(0,0,255)" stroke-width="0.25">Ddes_0773</text>
<text x="157.50" y="248.25" font-size="10" fill="rgb(0,0,255)" text-anchor="start" textLength="51.75" lengthAdjust="spacingAndGlyphs" stroke="rgb(0,0,255)" stroke-width="0.25">Ddes_0774</text>
<text x="150.75" y="266.25" font-size="10" fill="rgb(0,0,255)" text-anchor="start" textLength="51.75" lengthAdjust="spacingAndGlyphs" stroke="rgb(0,0,255)" stroke-width="0.25">Ddes_0775</text>
<text x="143.75" y="281.25" font-size="10" fill="rgb(0,0,255)" text-anchor="start" textLength="51.75" lengthAdjust="spacingAndGlyphs" stroke="rgb(0,0,255)" stroke-width="0.25">Ddes_0776</text>
<text x="135.50" y="299.40" font-size="10" fill="rgb(0,0,255)" text-anchor="start" textLength="51.75" lengthAdjust="spacingAndGlyphs" stroke="rgb(0,0,255)" stroke-width="0.25">Ddes_0777</text>
<text x="127.65" y="315.30" font-size="10" fill="rgb(0,0,255)" text-anchor="start" textLength="51.75" lengthAdjust="spacingAndGlyphs" stroke="rgb(0,0,255)" stroke-width="0.25">Ddes_0778</text>
<text x="118.75" y="337.50" font-size="10" fill="rgb(0,0,255)" text-anchor="start" textLength="51.75" lengthAdjust="spacingAndGlyphs" stroke="rgb(0,0,255)" stroke-width="0.25">Ddes_0779</text>
<text x="32.85" y="515.40" font-size="10" fill="rgb(0,0,255)" text-anchor="start" textLength="51.75" lengthAdjust="spacingAndGlyphs" stroke="rgb(0,0,255)" stroke-width="0.25">Ddes_0790</text>
<text x="20.85" y="538.50" font-size="10" fill="rgb(0,0,255)" text-anchor="start" textLength="51.75" lengthAdjust="spacingAndGlyphs" stroke="rgb(0,0,255)" stroke-width="0.25">Ddes_0791</text>
<text x="521.75" y="35.50" font-size="10" fill="rgb(255,0,0)" text-anchor="start" textLength="51.75" lengthAdjust="spacingAndGlyphs" stroke="rgb(255,0,0)" stroke-width="0.25">Ddes_0752</text>
<text x="516.75" y="50.50" font-size="10" fill="rgb(255,0,0)" text-anchor="start" textLength="19.50" lengthAdjust="spacingAndGlyphs" stroke="rgb(255,0,0)" stroke-width="0.25">glpX</text>
<text x="509.50" y="67.50" font-size="10" fill="rgb(255,0,0)" text-anchor="start" textLength="51.75" lengthAdjust="spacingAndGlyphs" stroke="rgb(255,0,0)" stroke-width="0.25">Ddes_0754</text>
<text x="502.50" y="86.25" font-size="10" fill="rgb(255,0,0)" text-anchor="start" textLength="51.75" lengthAdjust="spacingAndGlyphs" stroke="rgb(255,0,0)" stroke-width="0.25">Ddes_0755</text>
<text x="496.75" y="102.50" font-size="10" fill="rgb(255,0,0)" text-anchor="start" textLength="51.75" lengthAdjust="spacingAndGlyphs" stroke="rgb(255,0,0)" stroke-width="0.25">Ddes_0757</text>
<text x="489.50" y="119.25" font-size="10" fill="rgb(255,0,0)" text-anchor="start" textLength="51.75" lengthAdjust="spacingAndGlyphs" stroke="rgb(255,0,0)" stroke-width="0.25">Ddes_0758</text>
<text x="463.75" y="185.50" font-size="10" fill="rgb(255,0,0)" text-anchor="start" textLength="51.75" lengthAdjust="spacingAndGlyphs" stroke="rgb(255,0,0)" stroke-width="0.25">Ddes_0763</text>
<text x="455.50" y="203.75" font-size="10" fill="rgb(255,0,0)" text-anchor="start" textLength="51.75" lengthAdjust="spacingAndGlyphs" stroke="rgb(255,0,0)" stroke-width="0.25">Ddes_0764</text>
<text x="440.75" y="239.50" font-size="10" fill="rgb(255,0,0)" text-anchor="start" textLength="51.75" lengthAdjust="spacingAndGlyphs" stroke="rgb(255,0,0)" stroke-width="0.25">Ddes_0768</text>
<text x="431.75" y="262.50" font-size="10" fill="rgb(255,0,0)" text-anchor="start" textLength="51.75" lengthAdjust="spacingAndGlyphs" stroke="rgb(255,0,0)" stroke-width="0.25">Ddes_0769</text>
<text x="423.75" y="280.75" font-size="10" fill="rgb(255,0,0)" text-anchor="start" textLength="51.75" lengthAdjust="spacingAndGlyphs" stroke="rgb(255,0,0)" stroke-width="0.25">Ddes_0770</text>
<text x="353.75" y="438.75" font-size="10" fill="rgb(255,0,0)" text-anchor="start" textLength="51.75" lengthAdjust="spacingAndGlyphs" stroke="rgb(255,0,0)" stroke-width="0.25">Ddes_0780</text>
<text x="346.75" y="454.50" font-size="10" fill="rgb(255,0,0)" text-anchor="start" textLength="51.75" lengthAdjust="spacingAndGlyphs" stroke="rgb(255,0,0)" stroke-width="0.25">Ddes_0781</text>
<text x="338.75" y="469.25" font-size="10" fill="rgb(255,0,0)" text-anchor="start" textLength="51.75" lengthAdjust="spacingAndGlyphs" stroke="rgb(255,0,0)" stroke-width="0.25">Ddes_0782</text>
<text x="331.75" y="485.00" font-size="10" fill="rgb(255,0,0)" text-anchor="start" textLength="51.75" lengthAdjust="spacingAndGlyphs" stroke="rgb(255,0,0)" stroke-width="0.25">Ddes_0783</text>
<text x="324.50" y="500.00" font-size="10" fill="rgb(255,0,0)" text-anchor="start" textLength="51.75" lengthAdjust="spacingAndGlyphs" stroke="rgb(255,0,0)" stroke-width="0.25">Ddes_0784</text>
<text x="317.50" y="515.00" font-size="10" fill="rgb(255,0,0)" text-anchor="start" textLength="51.75" lengthAdjust="spacingAndGlyphs" stroke="rgb(255,0,0)" stroke-width="0.25">Ddes_0785</text>
<text x="310.00" y="530.75" font-size="10" fill="rgb(255,0,0)" text-anchor="start" textLength="51.75" lengthAdjust="spacingAndGlyphs" stroke="rgb(255,0,0)" stroke-width="0.25">Ddes_0786</text>
<text x="303.00" y="545.75" font-size="10" fill="rgb(255,0,0)" text-anchor="start" textLength="51.75" lengthAdjust="spacingAndGlyphs" stroke="rgb(255,0,0)" stroke-width="0.25">Ddes_0787</text>
<text x="295.75" y="560.75" font-size="10" fill="rgb(255,0,0)" text-anchor="start" textLength="51.75" lengthAdjust="spacingAndGlyphs" stroke="rgb(255,0,0)" stroke-width="0.25">Ddes_0788</text>
<path d="M295.00 50.00 L339.03 67.04 M288.75 65.00 L331.60 85.47 M281.25 83.00 L326.15 98.89 M275.00 100.00 L318.60 117.36 M268.25 115.00 L307.99 143.07 M262.00 131.25 L304.28 151.99 M253.75 150.50 L302.42 156.44 M233.25 198.75 L273.25 225.31 M227.50 214.25 L268.96 235.26 M220.00 230.75 L264.97 244.48 M212.00 248.00 L257.24 262.27 M204.50 265.75 L246.34 287.10 M198.00 280.75 L239.66 302.21 M189.50 299.50 L234.59 313.59 M182.00 315.00 L224.97 335.07 M172.50 337.00 L215.22 356.65 M87.60 516.00 L132.74 531.98 M76.50 538.50 L119.31 559.41" stroke="rgb(0,0,255)" stroke-width="1" fill="none"/>
<path d="M475.01 16.48 L520.00 33.75 M465.17 41.85 L514.25 48.00 M460.58 53.56 L507.50 65.50 M456.16 64.82 L500.75 84.50 M450.16 79.97 L494.50 100.50 M446.45 89.30 L487.50 117.50 M413.82 169.78 L461.25 183.00 M410.37 178.11 L453.75 202.00 M393.59 218.33 L438.75 237.50 M382.83 243.75 L429.50 260.00 M377.11 257.13 L421.75 278.75 M306.71 416.33 L351.25 437.00 M297.68 436.03 L344.25 452.00 M291.85 448.67 L337.00 468.00 M285.66 462.02 L330.00 483.75 M279.84 474.49 L323.00 498.75 M272.83 489.46 L315.75 513.25 M264.39 507.34 L308.00 529.50 M258.28 520.20 L300.75 545.00 M250.48 536.54 L293.75 558.75" stroke="rgb(255,0,0)" stroke-width="1" fill="none"/>
<path d="M95.4 499.5 L135.81 525.67" stroke="rgb(0,191,255)" stroke-width="1" fill="none"/>
<text x="34.50" y="499.50" font-size="10" fill="rgb(0,191,255)" text-anchor="start" textLength="57.50" lengthAdjust="spacingAndGlyphs">Ddes_R0024</text>
<text x="325.00" y="17.50" font-size="8.5" fill="rgb(30,30,30)" text-anchor="start" textLength="32.50" lengthAdjust="spacingAndGlyphs">890 kbp</text>
<text x="297.80" y="89.50" font-size="8.5" fill="rgb(30,30,30)" text-anchor="start" textLength="32.50" lengthAdjust="spacingAndGlyphs">895 kbp</text>
<text x="268.25" y="161.80" font-size="8.5" fill="rgb(30,30,30)" text-anchor="start" textLength="32.50" lengthAdjust="spacingAndGlyphs">900 kbp</text>
<text x="238.50" y="232.80" font-size="8.5" fill="rgb(30,30,30)" text-anchor="start" textLength="32.50" lengthAdjust="spacingAndGlyphs">905 kbp</text>
<text x="207.50" y="304.50" font-size="8.5" fill="rgb(30,30,30)" text-anchor="start" textLength="32.50" lengthAdjust="spacingAndGlyphs">910 kbp</text>
<text x="174.50" y="376.00" font-size="8.5" fill="rgb(30,30,30)" text-anchor="start" textLength="32.50" lengthAdjust="spacingAndGlyphs">915 kbp</text>
<text x="141.50" y="445.50" font-size="8.5" fill="rgb(30,30,30)" text-anchor="start" textLength="32.50" lengthAdjust="spacingAndGlyphs">920 kbp</text>
<text x="108.50" y="516.00" font-size="8.5" fill="rgb(30,30,30)" text-anchor="start" textLength="32.50" lengthAdjust="spacingAndGlyphs">925 kbp</text>
<text x="75.00" y="586.00" font-size="8.5" fill="rgb(30,30,30)" text-anchor="start" textLength="32.50" lengthAdjust="spacingAndGlyphs">930 kbp</text>
<rect x="84" y="5" width="431" height="26" fill="#fff" fill-opacity="0.8"/>
<text transform="translate(87.50,22.7) scale(1.0900,1)" font-size="13.3" font-style="italic" fill="#222" letter-spacing="0.404">Desulfovibrio</text>
<text transform="translate(183.20,22.7) scale(1.0900,1)" font-size="13.3" font-style="italic" fill="#222" letter-spacing="0.357">desulfuricans</text>
<text transform="translate(279.50,22.7) scale(1.0588,1)" font-size="13.3" font-style="italic" fill="#222" letter-spacing="0.000">subsp.</text>
<text transform="translate(328.30,22.7) scale(1.0900,1)" font-size="13.3" font-style="italic" fill="#222" letter-spacing="0.342">desulfuricans</text>
<text transform="translate(423.80,22.7) scale(1.0900,1)" font-size="13.3" font-style="italic" fill="#222" letter-spacing="0.029">str.</text>
<text transform="translate(450.00,22.7) scale(1.0586,1)" font-size="13.3" font-style="italic" fill="#222" letter-spacing="0.000">ATCC</text>
<text transform="translate(493.20,22.7) scale(1.0272,1)" font-size="13.3" font-style="italic" fill="#222" letter-spacing="0.000">2...</text>
<rect x="6" y="571" width="142" height="24" fill="#fff" fill-opacity="0.8"/>
<text x="9.00" y="586.60" font-size="12" fill="#1c1c1c" text-anchor="start" textLength="58.50" lengthAdjust="spacingAndGlyphs">Accession:</text>
<text x="73.50" y="586.60" font-size="12" fill="#1c1c1c" text-anchor="start" textLength="16.80" lengthAdjust="spacingAndGlyphs">NC</text>
<text x="90.60" y="586.60" font-size="12" fill="#1c1c1c" text-anchor="start" textLength="4.00" lengthAdjust="spacingAndGlyphs">_</text>
<text x="95.60" y="586.60" font-size="12" fill="#1c1c1c" text-anchor="start" textLength="46.90" lengthAdjust="spacingAndGlyphs">011883</text>
<rect x="258" y="571" width="334" height="24" fill="#fff" fill-opacity="0.8"/>
<text x="262.30" y="586.60" font-size="12" fill="#1c1c1c" text-anchor="start" textLength="54.80" lengthAdjust="spacingAndGlyphs">Topology:</text>
<text x="322.00" y="586.60" font-size="12" fill="#1c1c1c" text-anchor="start" textLength="45.20" lengthAdjust="spacingAndGlyphs">circular;</text>
<text x="372.20" y="586.60" font-size="12" fill="#1c1c1c" text-anchor="start" textLength="40.20" lengthAdjust="spacingAndGlyphs">Length:</text>
<text x="419.00" y="586.60" font-size="12" fill="#1c1c1c" text-anchor="start" textLength="61.60" lengthAdjust="spacingAndGlyphs">2,873,437</text>
<text x="486.50" y="586.60" font-size="12" fill="#1c1c1c" text-anchor="start" textLength="18.00" lengthAdjust="spacingAndGlyphs">bp;</text>
<text x="510.40" y="586.60" font-size="12" fill="#1c1c1c" text-anchor="start" textLength="37.90" lengthAdjust="spacingAndGlyphs">Genes:</text>
<text x="554.10" y="586.60" font-size="12" fill="#1c1c1c" text-anchor="start" textLength="35.00" lengthAdjust="spacingAndGlyphs">2,420</text>
</svg>
</body></html>
